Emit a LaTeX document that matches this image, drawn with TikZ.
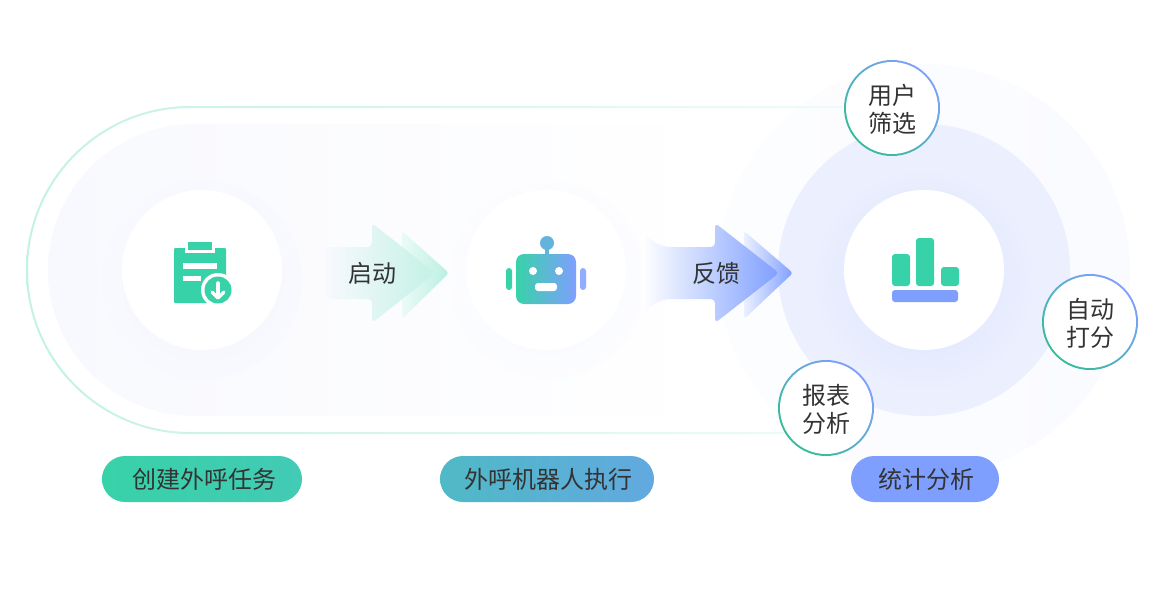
\documentclass[tikz,border=0pt]{standalone}
\usepackage{fontspec}
\setmainfont{Noto Sans CJK SC}
\definecolor{mint}{HTML}{38D2A8}
\definecolor{azure}{HTML}{7F9FFF}
\definecolor{ink}{HTML}{333333}
\definecolor{halo}{HTML}{EBEFFE}
\definecolor{halopale}{HTML}{FAFBFF}
\definecolor{bandtint}{HTML}{F8F9FE}
\definecolor{lagoon}{HTML}{4FB9C6}
\definecolor{sky}{HTML}{62A9E0}
\tikzset{
  label text/.style={text=ink, font=\fontsize{24}{28}\selectfont},
  disc/.style={circle, fill=white, minimum size=160pt, inner sep=0pt},
  ring/.style={circle, minimum size=96pt, inner sep=0pt, left color=mint!90!black, right color=azure, shading angle=135},
  badge/.style={label text, circle, fill=white, minimum size=92pt, inner sep=0pt, align=center},
  pill/.style={label text, minimum height=46pt, inner sep=0pt, rounded corners=23pt},
  icon bar/.style={fill=mint, rounded corners=3pt}
}

\begin{document}
\begin{tikzpicture}[x=1pt,y=-1pt]
\useasboundingbox (0,0) rectangle (1166,600);

% halo behind the last stage
\shade[left color=white!50!halopale, right color=halopale] (924,270) circle (206);
\fill[halo] (924,270) circle (146);
\shade[inner color=azure!28!white, outer color=halo] (924,280) circle (112);

% band
\shade[left color=bandtint, right color=white] (194,124) arc (-90:-270:146) -- (720,416) -- (720,124) -- cycle;
\shade[even odd rule, left color=mint!30!white, right color=mint!8!white]
  (190,106) arc (-90:-270:164) -- (850,434) -- (850,106) -- cycle
  (190,108) arc (-90:-270:162) -- (850,432) -- (850,108) -- cycle;

\shade[inner color=azure!9!white, outer color=bandtint] (202,280) circle (100);
\shade[inner color=azure!7!white, outer color=white!60!bandtint] (546,280) circle (100);

\node[disc] (taskdisc) at (202,270) {};
\node[disc] (robotdisc) at (546,270) {};
\node[disc] (statdisc) at (924,270) {};

% arrows
\shade[rounded corners=3pt, left color=mint!10!white, right color=mint!35!white]
  (402,231) -- (449,273) -- (402,319) -- cycle;
\shade[rounded corners=4pt, left color=bandtint, middle color=mint!15!white, right color=mint!30!white]
  (325,247) -- (372,247) -- (372,223) -- (435,273) -- (372,323) -- (372,299) -- (325,299) -- cycle;
\node[label text] (startlabel) at (372,273) {启动};

\shade[rounded corners=3pt, left color=azure!15!white, right color=azure]
  (744,231) -- (793,273) -- (744,319) -- cycle;
\shade[left color=white, middle color=azure!50!white, right color=azure]
  (642,233) .. controls (652,240) and (658,247) .. (672,247) -- (712,247)
  [rounded corners=4pt] -- (715,247) -- (715,223) -- (779,273) -- (715,323) -- (715,299)
  [sharp corners] -- (672,299) .. controls (658,299) and (652,306) .. (642,313) -- cycle;
\node[label text] (backlabel) at (716,273) {反馈};

% clipboard
\fill[mint, rounded corners=1pt] (174,248) rectangle (226,303);
\fill[white] (185,244) rectangle (215,253);
\fill[mint] (188,242) rectangle (212,250);
\fill[white] (183,263) rectangle (217,269);
\fill[white] (183,276) rectangle (201,281);
\fill[white] (218,290) circle (17);
\fill[mint] (218,290) circle (13.5);
\draw[white, line width=3.5pt, line cap=round] (218,283) -- (218,297);
\draw[white, line width=3.5pt, line cap=round, line join=round] (212,292) -- (218,298) -- (224,292);

% robot
\fill[color=mint, rounded corners=3pt] (506,268) rectangle (512,290);
\fill[color=azure!85!white, rounded corners=3pt] (580,268) rectangle (586,290);
\fill[color=mint!40!azure] (545,246) rectangle (549,256);
\fill[color=mint!40!azure] (547,243) circle (7);
\shade[rounded corners=8pt, left color=mint, right color=azure] (516,254) rectangle (576,304);
\foreach \x in {533,559}
\fill[white] (\x,271) circle (4);
\fill[white, rounded corners=3pt] (535,283) rectangle (557,291);

% chart
\foreach \x/\y in {892/254,916/238,941/267}
\fill[icon bar] (\x,\y) rectangle (\x+18,286);
\fill[azure, rounded corners=3pt] (892,290) rectangle (958,302);

% badges
\foreach \name/\x/\y/\txt in {user/892/108/{用户\\筛选},score/1090/322/{自动\\打分},report/826/408/{报表\\分析}} {
\node[ring] (\name ring) at (\x,\y) {};
\node[badge] (\name) at (\x,\y) {\rule{0pt}{22pt}\txt};
}

% captions
\node[pill, minimum width=200pt, left color=mint, right color=mint!85!azure] (taskpill) at (202,479) {\hspace*{4pt}创建外呼任务};
\node[pill, minimum width=214pt, left color=lagoon, right color=sky] (robotpill) at (547,479) {\hspace*{2pt}外呼机器人执行};
\node[pill, minimum width=148pt, fill=azure] (statpill) at (925,479) {\hspace*{2pt}统计分析};
\end{tikzpicture}
\end{document}
